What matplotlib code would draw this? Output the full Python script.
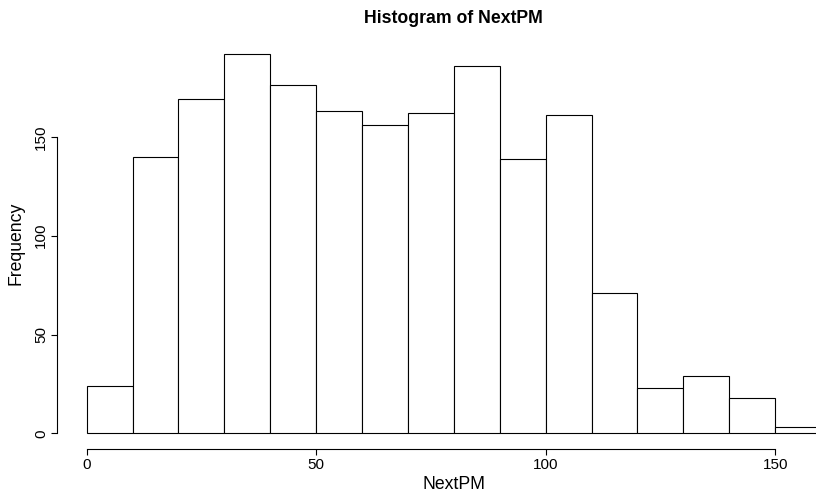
import numpy as np
import matplotlib
matplotlib.use("Agg")
import matplotlib.pyplot as plt

plt.rcParams['font.family'] = ['Liberation Sans', 'DejaVu Sans']

# bin edges (width 10) and counts per bin
bin_edges = np.arange(0, 170, 10)
counts = [24, 140, 169, 192, 176, 163, 156, 162, 186, 139, 161, 71, 23, 29, 18, 3]

x_ticks = [0, 50, 100, 150]
y_ticks = [0, 50, 100, 150]


def plot_hist():
    fig = plt.figure(figsize=(8.16, 4.95), dpi=100)
    # plot region runs past the right edge of the figure
    ax = fig.add_axes([0.0702, 0.0939, 0.972, 0.828])

    ax.bar(bin_edges[:-1], counts, width=10, align='edge',
           facecolor='white', edgecolor='black', linewidth=0.8)

    # R-style padded limits
    ax.set_xlim(-6.4, 166.4)
    ax.set_ylim(-0.04 * max(counts), 1.04 * max(counts))

    for side in ['top', 'right']:
        ax.spines[side].set_visible(False)
    ax.spines['left'].set_bounds(0, 150)
    ax.spines['bottom'].set_bounds(0, 150)
    for side in ['left', 'bottom']:
        ax.spines[side].set_linewidth(0.8)

    ax.set_xticks(x_ticks)
    ax.set_yticks(y_ticks)
    ax.set_yticklabels([str(v) for v in y_ticks], rotation=90, va='center')
    ax.tick_params(direction='out', length=4.5, width=0.8, labelsize=11)
    ax.tick_params(axis='x', pad=2)
    ax.tick_params(axis='y', pad=2)

    ax.set_xlabel("NextPM", fontsize=12.7, labelpad=3)
    ax.set_ylabel("Frequency", fontsize=12.7, labelpad=7)
    ax.set_title("Histogram of NextPM", fontsize=12.7, fontweight='bold', pad=11)

    fig.savefig("out.png", dpi=100)


if __name__ == "__main__":
    plot_hist()
